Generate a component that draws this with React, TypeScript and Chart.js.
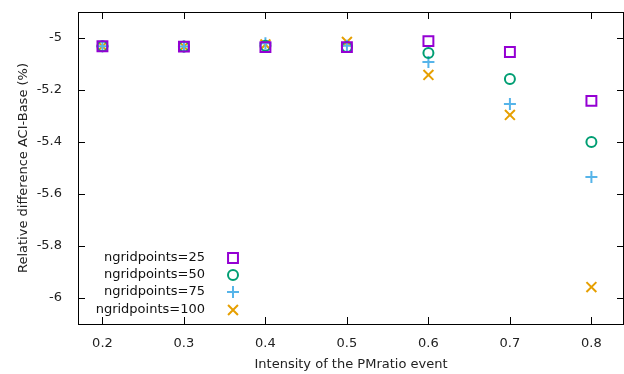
import React, { useEffect, useRef } from "react";
import { Chart, registerables } from "chart.js";

Chart.register(...registerables);

const intensities = [0.2, 0.3, 0.4, 0.5, 0.6, 0.7, 0.8];
const grid25 = [-5.032, -5.033, -5.035, -5.035, -5.012, -5.054, -5.242];
const grid50 = [-5.032, -5.033, -5.03, -5.035, -5.058, -5.158, -5.4];
const grid75 = [-5.032, -5.033, -5.02, -5.03, -5.092, -5.254, -5.535];
const grid100 = [-5.032, -5.033, -5.025, -5.015, -5.142, -5.296, -5.958];
const seriesLabels = ["ngridpoints=25", "ngridpoints=50", "ngridpoints=75", "ngridpoints=100"];
const xTicks = [0.2, 0.3, 0.4, 0.5, 0.6, 0.7, 0.8];
const yTicks = [-6, -5.8, -5.6, -5.4, -5.2, -5];

const colors = ["#9400d3", "#009e73", "#56b4e9", "#e69f00"];
const styles = ["rect", "circle", "cross", "crossRot"];
const radii = [7, 5, 6, 7];
const FONT = "'DejaVu Sans', sans-serif";

function drawMarker(ctx: CanvasRenderingContext2D, i: number, x: number, y: number) {
  const r = radii[i];
  ctx.beginPath();
  if (styles[i] === "rect") {
    const s = Math.SQRT1_2 * r;
    ctx.rect(x - s, y - s, 2 * s, 2 * s);
  } else if (styles[i] === "circle") {
    ctx.arc(x, y, r, 0, Math.PI * 2);
  } else if (styles[i] === "cross") {
    ctx.moveTo(x - r, y);
    ctx.lineTo(x + r, y);
    ctx.moveTo(x, y - r);
    ctx.lineTo(x, y + r);
  } else {
    const o = Math.SQRT1_2 * r;
    ctx.moveTo(x - o, y - o);
    ctx.lineTo(x + o, y + o);
    ctx.moveTo(x - o, y + o);
    ctx.lineTo(x + o, y - o);
  }
  ctx.stroke();
}

const framePlugin = {
  id: "frame",
  afterDatasetsDraw(chart: any) {
    const { ctx, chartArea: a, scales } = chart;
    ctx.save();
    ctx.strokeStyle = "#000";
    ctx.lineWidth = 1;
    ctx.strokeRect(a.left + 0.5, a.top + 0.5, a.right - a.left - 1, a.bottom - a.top);
    const tl = 7;
    ctx.beginPath();
    for (const v of xTicks) {
      const x = Math.round(scales.x.getPixelForValue(v)) + 0.5;
      ctx.moveTo(x, a.bottom);
      ctx.lineTo(x, a.bottom - tl);
      ctx.moveTo(x, a.top);
      ctx.lineTo(x, a.top + tl);
    }
    for (const v of yTicks) {
      const y = Math.round(scales.y.getPixelForValue(v)) + 0.5;
      ctx.moveTo(a.left, y);
      ctx.lineTo(a.left + tl, y);
      ctx.moveTo(a.right, y);
      ctx.lineTo(a.right - tl, y);
    }
    ctx.stroke();
    // legend
    ctx.font = `13px ${FONT}`;
    ctx.textAlign = "right";
    ctx.textBaseline = "middle";
    ctx.fillStyle = "#111";
    const offs = [66, 49, 32, 14];
    seriesLabels.forEach((lab, i) => {
      const y = a.bottom - offs[i];
      ctx.fillText(lab, a.left + 127, y);
      ctx.strokeStyle = colors[i];
      ctx.lineWidth = 2;
      drawMarker(ctx, i, a.left + 155, y);
    });
    ctx.restore();
  },
};

function zeroPad(s: any) {
  s.paddingLeft = 0;
  s.paddingRight = 0;
  s.paddingTop = 0;
  s.paddingBottom = 0;
}

export default function App() {
  const ref = useRef<HTMLCanvasElement>(null);
  useEffect(() => {
    document.body.style.margin = "0";
    const chart = new Chart(ref.current!, {
      type: "scatter",
      data: {
        datasets: [grid25, grid50, grid75, grid100].map((vals, i) => ({
          label: seriesLabels[i],
          data: intensities.map((x, j) => ({ x, y: vals[j] })),
          pointStyle: styles[i] as any,
          pointRadius: radii[i],
          pointBorderWidth: 2,
          borderColor: colors[i],
          backgroundColor: "rgba(0,0,0,0)",
          pointBackgroundColor: "rgba(0,0,0,0)",
          pointBorderColor: colors[i],
        })),
      },
      options: {
        animation: false,
        responsive: false,
        layout: { autoPadding: false, padding: { left: 14, right: 0, top: 12, bottom: 0 } },
        plugins: { legend: { display: false }, tooltip: { enabled: false } },
        scales: {
          x: {
            type: "linear",
            min: 0.17,
            max: 0.84,
            grid: { display: false },
            border: { display: false },
            afterBuildTicks: (s: any) => {
              s.ticks = xTicks.map((v) => ({ value: v }));
            },
            afterFit: (s: any) => {
              s.height = 50;
              zeroPad(s);
            },
            ticks: {
              font: { family: FONT, size: 13 },
              color: "#222",
              padding: 4,
              maxRotation: 0,
              callback: (v: any) => String(Math.round(Number(v) * 10) / 10),
            },
            title: {
              display: true,
              text: "Intensity of the PMratio event",
              font: { family: FONT, size: 13 },
              color: "#222",
              padding: { top: 3, bottom: 2 },
            },
          },
          y: {
            type: "linear",
            min: -6.1,
            max: -4.9,
            grid: { display: false },
            border: { display: false },
            afterBuildTicks: (s: any) => {
              s.ticks = yTicks.map((v) => ({ value: v }));
            },
            afterFit: (s: any) => {
              s.width = 64;
              zeroPad(s);
            },
            ticks: {
              font: { family: FONT, size: 13 },
              color: "#222",
              padding: 8,
              callback: (v: any) => String(Math.round(Number(v) * 10) / 10),
            },
            title: {
              display: true,
              text: "Relative difference ACI-Base (%)",
              font: { family: FONT, size: 13 },
              color: "#222",
              padding: { top: 2, bottom: 0 },
            },
          },
        },
      },
      plugins: [framePlugin],
    });
    return () => chart.destroy();
  }, []);
  return <canvas ref={ref} width={624} height={374} style={{ display: "block" }} />;
}
